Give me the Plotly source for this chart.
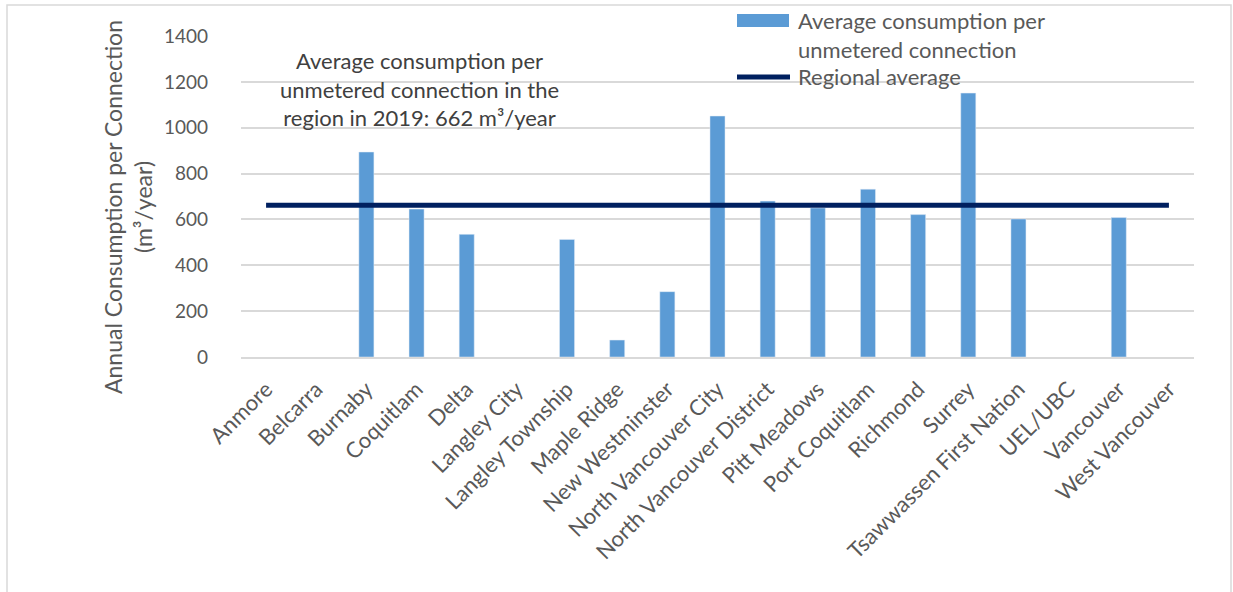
import plotly.graph_objects as go

# Municipalities and average annual consumption per unmetered connection (m3/year)
municipalities = [
    "Anmore", "Belcarra", "Burnaby", "Coquitlam", "Delta", "Langley City",
    "Langley Township", "Maple Ridge", "New Westminster", "North Vancouver City",
    "North Vancouver District", "Pitt Meadows", "Port Coquitlam", "Richmond",
    "Surrey", "Tsawwassen First Nation", "UEL/UBC", "Vancouver", "West Vancouver",
]
consumption = [
    None, None, 894, 645, 535, None,
    513, 74, 285, 1051,
    680, 650, 732, 621,
    1151, 602, None, 608, None,
]
regional_average = 662
y_ticks = [0, 200, 400, 600, 800, 1000, 1200, 1400]

FONT = "Lato"
GREY = "#595959"
BAR = "#5B9BD5"
NAVY = "#002060"

W, H = 1233, 592
L, R, T, B = 241, 39, 36, 235
PW, PH = W - L - R, H - T - B


def px(x):
    return (x - L) / PW


def py(y):
    return (H - B - y) / PH


fig = go.Figure()
fig.add_trace(go.Bar(
    x=municipalities, y=consumption, marker_color=BAR, width=0.3,
    showlegend=False,
))
fig.add_trace(go.Scatter(
    x=municipalities, y=[regional_average] * len(municipalities),
    mode="lines", line=dict(color=NAVY, width=5), showlegend=False,
))

# legend drawn as shapes + text
shapes = [
    dict(type="rect", xref="paper", yref="paper", x0=px(737), x1=px(789),
         y0=py(27), y1=py(14), fillcolor=BAR, line_width=0),
    dict(type="line", xref="paper", yref="paper", x0=px(737), x1=px(790),
         y0=py(77), y1=py(77), line=dict(color=NAVY, width=5)),
    # outer chart border
    dict(type="rect", xref="paper", yref="paper", x0=px(7), x1=px(1231),
         y0=py(620), y1=py(5), line=dict(color="#d9d9d9", width=1.5),
         layer="below"),
]
annotations = [
    dict(xref="paper", yref="paper", x=px(796), y=py(35), xanchor="left",
         yanchor="middle", align="left", showarrow=False,
         text="Average consumption per<br>unmetered connection",
         font=dict(family=FONT, size=22, color=GREY)),
    dict(xref="paper", yref="paper", x=px(796), y=py(76), xanchor="left",
         yanchor="middle", align="left", showarrow=False,
         text="Regional average",
         font=dict(family=FONT, size=22, color=GREY)),
    dict(xref="paper", yref="paper", x=px(419), y=py(89), xanchor="center",
         yanchor="middle", align="center", showarrow=False,
         text="Average consumption per<br>unmetered connection in the<br>"
              "region in 2019: 662 m³/year",
         font=dict(family=FONT, size=22, color="#404040")),
    # y-axis title
    dict(xref="paper", yref="paper", x=px(128), y=py(207), xanchor="center",
         yanchor="middle", align="center", showarrow=False, textangle=-90,
         text="Annual Consumption per Connection<br>(m³/year)",
         font=dict(family=FONT, size=23, color=GREY)),
]

fig.update_layout(
    width=W, height=H,
    margin=dict(l=L, r=R, t=T, b=B),
    paper_bgcolor="white", plot_bgcolor="white",
    font=dict(family=FONT, color=GREY),
    shapes=shapes, annotations=annotations,
    bargap=0.7,
)
fig.update_xaxes(
    tickangle=-45, tickfont=dict(size=22, color=GREY), showgrid=False,
    showline=True, linecolor="#d9d9d9", linewidth=1.5, ticks="",
    ticklabelstandoff=9,
)
fig.update_yaxes(
    range=[0, 1400], tickvals=y_ticks, tickfont=dict(size=19, color=GREY),
    showgrid=True, gridcolor="#d9d9d9", gridwidth=1.5, zeroline=False,
    ticklabelstandoff=32,
)

fig.write_html("out.html")
